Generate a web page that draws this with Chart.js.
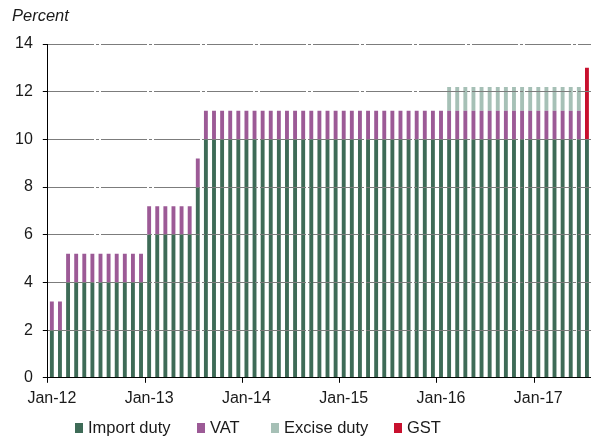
<!DOCTYPE html>
<html>
<head>
<meta charset="utf-8">
<script src="https://cdn.jsdelivr.net/npm/chart.js@4.4.0/dist/chart.umd.min.js"></script>
<style>
    html, body { margin: 0; padding: 0; background: #ffffff; }
    #wrap { width: 591px; height: 438px; }
</style>
</head>
<body>
<div id="wrap"><canvas id="taxChart"></canvas></div>
<script>
// Monthly categories Jan-12 .. Jul-17
const monthNames = ['Jan', 'Feb', 'Mar', 'Apr', 'May', 'Jun', 'Jul', 'Aug', 'Sep', 'Oct', 'Nov', 'Dec'];
const years = ['12', '13', '14', '15', '16', '17'];
const lastYearMonths = 7;

const months = [];
years.forEach((y, yi) => {
    const n = (yi === years.length - 1) ? lastYearMonths : 12;
    for (let m = 0; m < n; m++) months.push(monthNames[m] + '-' + y);
});

// Series values (percent), one per month
const importDuty = [
    2, 2, 4, 4, 4, 4, 4, 4, 4, 4, 4, 4,          // 2012
    6, 6, 6, 6, 6, 6, 8, 10, 10, 10, 10, 10,     // 2013
    10, 10, 10, 10, 10, 10, 10, 10, 10, 10, 10, 10, // 2014
    10, 10, 10, 10, 10, 10, 10, 10, 10, 10, 10, 10, // 2015
    10, 10, 10, 10, 10, 10, 10, 10, 10, 10, 10, 10, // 2016
    10, 10, 10, 10, 10, 10, 10                   // 2017
];
const vat = [
    1.2, 1.2, 1.2, 1.2, 1.2, 1.2, 1.2, 1.2, 1.2, 1.2, 1.2, 1.2,
    1.2, 1.2, 1.2, 1.2, 1.2, 1.2, 1.2, 1.2, 1.2, 1.2, 1.2, 1.2,
    1.2, 1.2, 1.2, 1.2, 1.2, 1.2, 1.2, 1.2, 1.2, 1.2, 1.2, 1.2,
    1.2, 1.2, 1.2, 1.2, 1.2, 1.2, 1.2, 1.2, 1.2, 1.2, 1.2, 1.2,
    1.2, 1.2, 1.2, 1.2, 1.2, 1.2, 1.2, 1.2, 1.2, 1.2, 1.2, 1.2,
    1.2, 1.2, 1.2, 1.2, 1.2, 1.2, 0
];
const exciseDuty = [
    0, 0, 0, 0, 0, 0, 0, 0, 0, 0, 0, 0,
    0, 0, 0, 0, 0, 0, 0, 0, 0, 0, 0, 0,
    0, 0, 0, 0, 0, 0, 0, 0, 0, 0, 0, 0,
    0, 0, 0, 0, 0, 0, 0, 0, 0, 0, 0, 0,
    0, 1, 1, 1, 1, 1, 1, 1, 1, 1, 1, 1,
    1, 1, 1, 1, 1, 1, 0
];
const gst = [
    0, 0, 0, 0, 0, 0, 0, 0, 0, 0, 0, 0,
    0, 0, 0, 0, 0, 0, 0, 0, 0, 0, 0, 0,
    0, 0, 0, 0, 0, 0, 0, 0, 0, 0, 0, 0,
    0, 0, 0, 0, 0, 0, 0, 0, 0, 0, 0, 0,
    0, 0, 0, 0, 0, 0, 0, 0, 0, 0, 0, 0,
    0, 0, 0, 0, 0, 0, 3
];

const seriesNames = ['Import duty', 'VAT', 'Excise duty', 'GST'];
const seriesColors = ['#3e6b57', '#9c5a96', '#a6c0b6', '#c8102e'];
const textColor = '#1a1a1a';
const fontFamily = '"Liberation Sans", Arial, sans-serif';

// Legend row + "Percent" caption drawn on the canvas
const captionPlugin = {
    id: 'captions',
    afterDraw(chart) {
        const c = chart.ctx;
        const legendX = [75, 197, 271, 394];
        c.save();
        c.textBaseline = 'middle';
        c.font = '16.5px ' + fontFamily;
        seriesNames.forEach((name, i) => {
            c.fillStyle = seriesColors[i];
            c.fillRect(legendX[i], 423, 8, 10);
            c.fillStyle = textColor;
            c.fillText(name, legendX[i] + 13, 428);
        });
        c.font = 'italic 16.5px ' + fontFamily;
        c.fillText('Percent', 12, 16.5);
        c.restore();
    }
};

function initializeTaxChart() {
    const ctx = document.getElementById('taxChart');
    if (!ctx) return;

    Chart.defaults.font.family = fontFamily;
    Chart.defaults.font.size = 16;
    Chart.defaults.color = textColor;

    const series = [importDuty, vat, exciseDuty, gst];

    new Chart(ctx, {
        type: 'bar',
        data: {
            labels: months,
            datasets: series.map((d, i) => ({
                label: seriesNames[i],
                data: d,
                backgroundColor: seriesColors[i],
                barPercentage: 0.48,
                categoryPercentage: 1
            }))
        },
        options: {
            responsive: true,
            maintainAspectRatio: false,
            animation: false,
            devicePixelRatio: 1,
            layout: {
                padding: { top: 44, bottom: 24, left: 5, right: 0 }
            },
            plugins: {
                legend: { display: false },
                tooltip: { enabled: false }
            },
            scales: {
                x: {
                    stacked: true,
                    // let the last bar run to the right edge
                    afterFit: (scale) => { scale.paddingRight = 0; },
                    border: { color: '#000', width: 1, z: 1 },
                    grid: {
                        drawOnChartArea: false,
                        tickLength: 5,
                        color: (c) => (c.index % 12 === 0) ? '#000' : 'rgba(0,0,0,0)'
                    },
                    ticks: {
                        autoSkip: false,
                        maxRotation: 0,
                        padding: 6,
                        callback: (value, index) => (index % 12 === 0) ? months[index] : ''
                    }
                },
                y: {
                    stacked: true,
                    min: 0,
                    max: 14,
                    border: { color: '#000', width: 1, dash: [46, 2, 3, 2], z: 1 },
                    grid: {
                        z: 1,
                        color: (c) => (c.tick && c.tick.value === 0) ? 'rgba(0,0,0,0)' : '#7c7c7c',
                        tickColor: '#000',
                        tickLength: 5
                    },
                    ticks: {
                        stepSize: 2,
                        padding: 10
                    }
                }
            }
        },
        plugins: [captionPlugin]
    });
}

document.addEventListener('DOMContentLoaded', function () {
    initializeTaxChart();
});
</script>
</body>
</html>
